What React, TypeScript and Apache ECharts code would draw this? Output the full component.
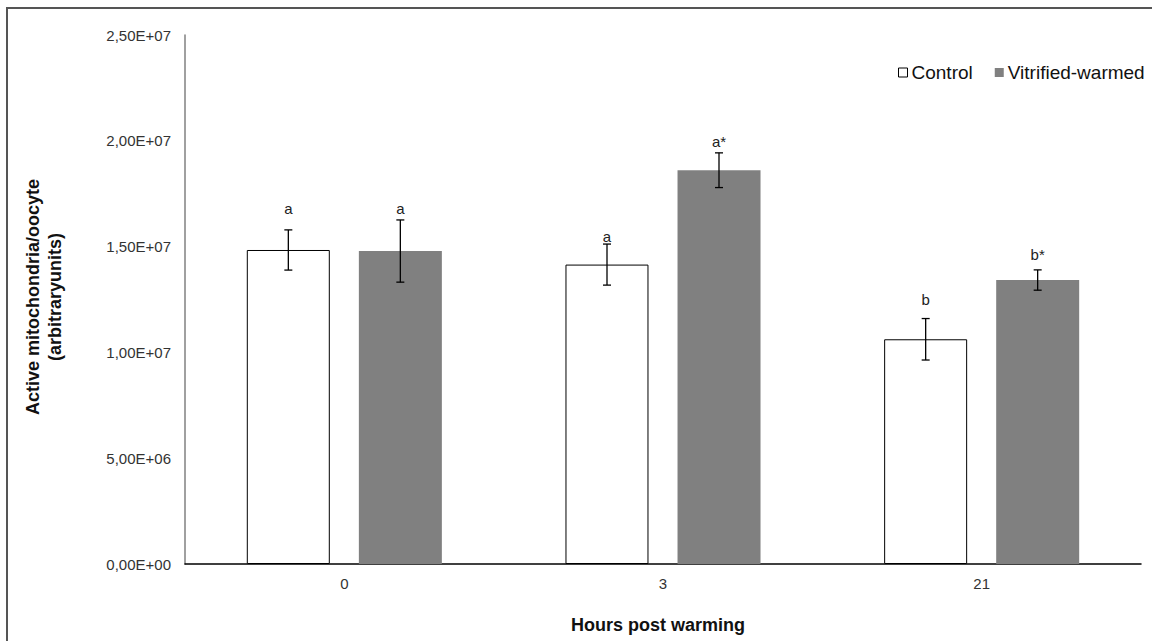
import React, { useEffect, useRef } from "react";
import * as echarts from "echarts";

const categories = ["0", "3", "21"];
const controlValues = [1.484e7, 1.415e7, 1.062e7];
const controlErrors = [0.095e7, 0.097e7, 0.098e7];
const vitrifiedValues = [1.479e7, 1.861e7, 1.342e7];
const vitrifiedErrors = [0.147e7, 0.082e7, 0.048e7];
const controlLetters = ["a", "a", "b"];
const vitrifiedLetters = ["a", "a*", "b*"];
const controlLetterLevels = [1.681e7, 1.55e7, 1.251e7];
const vitrifiedLetterLevels = [1.681e7, 1.996e7, 1.465e7];
const yTickLabels = ["0,00E+00", "5,00E+06", "1,00E+07", "1,50E+07", "2,00E+07", "2,50E+07"];
const seriesNames = ["Control", "Vitrified-warmed"];

const FONT = "'Liberation Sans', Arial, sans-serif";

function errorSeries(values: number[], errors: number[], levels: number[], letters: string[], offset: number) {
  return {
    type: "custom",
    z: 10,
    silent: true,
    data: values.map((v, i) => [i, v, errors[i], levels[i]]),
    renderItem: (params: any, api: any) => {
      const i = api.value(0);
      const v = api.value(1);
      const e = api.value(2);
      const lv = api.value(3);
      const top = api.coord([i, v + e]);
      const bot = api.coord([i, v - e]);
      const lab = api.coord([i, lv]);
      const x = top[0] + offset;
      const cap = 4;
      const st = { stroke: "#000", lineWidth: 1.3 };
      return {
        type: "group",
        children: [
          { type: "line", shape: { x1: x, y1: top[1], x2: x, y2: bot[1] }, style: st },
          { type: "line", shape: { x1: x - cap, y1: top[1], x2: x + cap, y2: top[1] }, style: st },
          { type: "line", shape: { x1: x - cap, y1: bot[1], x2: x + cap, y2: bot[1] }, style: st },
          {
            type: "text",
            x: x,
            y: lab[1],
            style: {
              text: letters[params.dataIndex],
              fill: "#222",
              font: `15px ${FONT}`,
              align: "center",
              verticalAlign: "middle",
            },
          },
        ],
      };
    },
  };
}

export default function App() {
  const ref = useRef<HTMLDivElement>(null);
  useEffect(() => {
    if (!ref.current) return;
    const chart = echarts.init(ref.current, undefined, { renderer: "svg" });
    chart.setOption({
      animation: false,
      backgroundColor: "#fff",
      textStyle: { fontFamily: FONT },
      grid: { left: 185, right: 11, top: 35, bottom: 77, containLabel: false },
      legend: {
        left: 898,
        top: 63,
        width: 300,
        padding: 0,
        itemWidth: 9,
        itemHeight: 9,
        itemGap: 22,
        icon: "rect",
        textStyle: { fontSize: 19, color: "#111", fontFamily: FONT, padding: [0, 0, 0, -1] },
        data: [
          { name: seriesNames[0], itemStyle: { color: "#fff", borderColor: "#000", borderWidth: 1 } },
          { name: seriesNames[1], itemStyle: { color: "#808080", borderWidth: 0 } },
        ],
      },
      xAxis: {
        type: "category",
        data: categories,
        axisLine: { lineStyle: { color: "#000", width: 1.5 } },
        axisTick: { show: false },
        axisLabel: { fontSize: 15, color: "#333", margin: 12, fontFamily: FONT },
      },
      yAxis: {
        type: "value",
        min: 0,
        max: 2.5e7,
        interval: 5e6,
        splitLine: { show: false },
        axisLine: { show: true, lineStyle: { color: "#808080", width: 1.5 } },
        axisTick: { show: false },
        axisLabel: {
          fontSize: 15,
          color: "#333",
          margin: 14,
          fontFamily: FONT,
          formatter: (v: number) => yTickLabels[Math.round(v / 5e6)] ?? "",
        },
      },
      series: [
        {
          name: seriesNames[0],
          type: "bar",
          data: controlValues,
          barWidth: 83,
          barGap: "35%",
          itemStyle: { color: "#fff", borderColor: "#000", borderWidth: 1 },
        },
        {
          name: seriesNames[1],
          type: "bar",
          data: vitrifiedValues,
          barWidth: 83,
          barGap: "35%",
          itemStyle: { color: "#808080" },
        },
        errorSeries(controlValues, controlErrors, controlLetterLevels, controlLetters, -56),
        errorSeries(vitrifiedValues, vitrifiedErrors, vitrifiedLetterLevels, vitrifiedLetters, 56),
      ],
      graphic: [
        {
          type: "rect",
          shape: { x: 7, y: 8, width: 1200, height: 700 },
          style: { fill: "none", stroke: "#555", lineWidth: 2 },
          silent: true,
        },
        {
          type: "text",
          x: 44,
          y: 297,
          rotation: Math.PI / 2,
          style: {
            text: "Active mitochondria/oocyte\n(arbitraryunits)",
            font: `bold 18px ${FONT}`,
            lineHeight: 22,
            fill: "#111",
            align: "center",
            verticalAlign: "middle",
          },
        },
        {
          type: "text",
          x: 658,
          y: 625,
          style: {
            text: "Hours post warming",
            font: `bold 18px ${FONT}`,
            fill: "#111",
            align: "center",
            verticalAlign: "middle",
          },
        },
      ],
    });
    return () => chart.dispose();
  }, []);
  return (
    <div
      ref={ref}
      style={{ position: "fixed", left: 0, top: 0, width: 1152, height: 641 }}
    />
  );
}
